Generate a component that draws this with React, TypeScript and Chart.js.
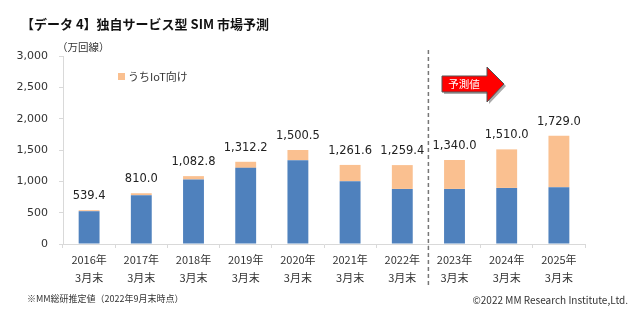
import React, { useEffect, useRef } from "react";
import { Chart, registerables } from "chart.js";

Chart.register(...registerables);

const years = ["2016年", "2017年", "2018年", "2019年", "2020年", "2021年", "2022年", "2023年", "2024年", "2025年"];
const monthSuffix = "3月末";
const nonIotValues = [523, 779, 1029, 1215, 1337, 1002, 879, 879, 895, 906];
const iotValues = [16, 31, 54, 97, 163, 260, 380, 461, 615, 823];
const totalLabels = [539.4, 810.0, 1082.8, 1312.2, 1500.5, 1261.6, 1259.4, 1340.0, 1510.0, 1729.0];
const yTicks = [0, 500, 1000, 1500, 2000, 2500, 3000];
const forecastStartIndex = 7;

const BLUE = "#4F81BD";
const ORANGE = "#FAC090";
const NUM_FONT = '"DejaVu Sans", "Noto Sans CJK JP", sans-serif';
const JP_FONT = '"Noto Sans CJK JP", "DejaVu Sans", sans-serif';

function fmt(v: number, digits: number) {
  const fixed = v.toFixed(digits);
  const [intPart, dec] = fixed.split(".");
  const withCommas = intPart.replace(/\B(?=(\d{3})+(?!\d))/g, ",");
  return dec !== undefined ? withCommas + "." + dec : withCommas;
}

const totalsPlugin = {
  id: "totalsPlugin",
  afterDatasetsDraw(chart: any) {
    const ctx = chart.ctx;
    const meta = chart.getDatasetMeta(1);
    ctx.save();
    ctx.font = `11.5px ${NUM_FONT}`;
    ctx.fillStyle = "#222";
    ctx.textAlign = "center";
    ctx.textBaseline = "middle";
    meta.data.forEach((bar: any, i: number) => {
      ctx.fillText(fmt(totalLabels[i], 1), bar.x, bar.y - 14);
    });
    ctx.restore();
  },
};

const dividerPlugin = {
  id: "dividerPlugin",
  afterDraw(chart: any) {
    const ctx = chart.ctx;
    const xs = chart.scales.x;
    const x = (xs.getPixelForValue(forecastStartIndex - 1) + xs.getPixelForValue(forecastStartIndex)) / 2;
    ctx.save();
    ctx.strokeStyle = "#777";
    ctx.lineWidth = 1.5;
    ctx.setLineDash([4, 3]);
    ctx.beginPath();
    ctx.moveTo(x, 50);
    ctx.lineTo(x, 288);
    ctx.stroke();
    ctx.restore();
  },
};

export default function App() {
  const ref = useRef<HTMLCanvasElement>(null);
  useEffect(() => {
    const prevMargin = document.body.style.margin;
    document.body.style.margin = "0";
    const chart = new Chart(ref.current as HTMLCanvasElement, {
      type: "bar",
      data: {
        labels: years.map((y) => [y, monthSuffix]),
        datasets: [
          {
            label: "IoT以外",
            data: nonIotValues,
            backgroundColor: BLUE,
            barPercentage: 0.4,
            categoryPercentage: 1,
          },
          {
            label: "うちIoT向け",
            data: iotValues,
            backgroundColor: ORANGE,
            barPercentage: 0.4,
            categoryPercentage: 1,
          },
        ],
      },
      options: {
        responsive: false,
        animation: false,
        layout: { padding: { left: 0, right: 50, top: 56, bottom: 0 } },
        plugins: {
          legend: { display: false },
          tooltip: { enabled: false },
          title: { display: false },
        },
        scales: {
          x: {
            stacked: true,
            offset: true,
            grid: {
              offset: true,
              drawOnChartArea: false,
              drawTicks: true,
              tickLength: 4,
              color: "#d9d9d9",
            },
            border: { color: "#d9d9d9" },
            ticks: {
              color: "#333",
              padding: 3,
              maxRotation: 0,
              autoSkip: false,
              font: { family: JP_FONT, size: 11, lineHeight: 1.64 },
            },
            afterFit(scale: any) {
              scale.height = 79;
            },
          },
          y: {
            stacked: true,
            min: 0,
            max: 3000,
            afterBuildTicks(scale: any) {
              scale.ticks = yTicks.map((v) => ({ value: v }));
            },
            grid: {
              drawOnChartArea: false,
              drawTicks: true,
              tickLength: 4,
              color: "#d9d9d9",
            },
            border: { color: "#d9d9d9" },
            ticks: {
              color: "#333",
              padding: 11,
              font: { family: NUM_FONT, size: 11 },
              callback: (v: any) => fmt(Number(v), 0),
            },
            afterFit(scale: any) {
              scale.width = 63;
            },
          },
        },
      },
      plugins: [totalsPlugin, dividerPlugin],
    });
    return () => {
      chart.destroy();
      document.body.style.margin = prevMargin;
    };
  }, []);

  return (
    <div style={{ position: "absolute", left: 0, top: 0, width: 635, height: 323, background: "#fff", overflow: "hidden" }}>
      <canvas ref={ref} width={635} height={323} style={{ position: "absolute", left: 0, top: 0 }} />
      <div
        style={{
          position: "absolute",
          left: 21,
          top: 14,
          fontFamily: JP_FONT,
          fontWeight: "bold",
          fontSize: 13,
          lineHeight: "20px",
          color: "#111",
          whiteSpace: "nowrap",
        }}
      >
        【データ 4】独自サービス型 SIM 市場予測
      </div>
      <div
        style={{
          position: "absolute",
          left: 57,
          top: 39,
          fontFamily: JP_FONT,
          fontSize: 10.5,
          lineHeight: "15px",
          color: "#333",
          whiteSpace: "nowrap",
        }}
      >
        （万回線）
      </div>
      <div style={{ position: "absolute", left: 118, top: 73, width: 7, height: 7, background: ORANGE }} />
      <div
        style={{
          position: "absolute",
          left: 128,
          top: 69,
          fontFamily: JP_FONT,
          fontSize: 11,
          lineHeight: "15px",
          color: "#333",
          whiteSpace: "nowrap",
        }}
      >
        うちIoT向け
      </div>
      <svg style={{ position: "absolute", left: 0, top: 0 }} width={635} height={323}>
        <polygon points="444,78 489,78 489,69 506,86 489,104 489,94 444,94" fill="#aaa" />
        <polygon points="442,76 487,76 487,67 504,84 487,102 487,92 442,92" fill="#ff0000" stroke="#555" strokeWidth={1} />
        <text x={464} y={88} textAnchor="middle" fill="#fff" fontSize={10.5} fontFamily={JP_FONT}>
          予測値
        </text>
      </svg>
      <div
        style={{
          position: "absolute",
          left: 27,
          top: 292,
          fontFamily: JP_FONT,
          fontSize: 9,
          lineHeight: "14px",
          color: "#333",
          whiteSpace: "nowrap",
        }}
      >
        ※MM総研推定値（2022年9月末時点）
      </div>
      <div
        style={{
          position: "absolute",
          right: 7,
          top: 293,
          fontFamily: JP_FONT,
          fontSize: 10,
          lineHeight: "14px",
          color: "#333",
          whiteSpace: "nowrap",
        }}
      >
        ©2022 MM Research Institute,Ltd.
      </div>
    </div>
  );
}
